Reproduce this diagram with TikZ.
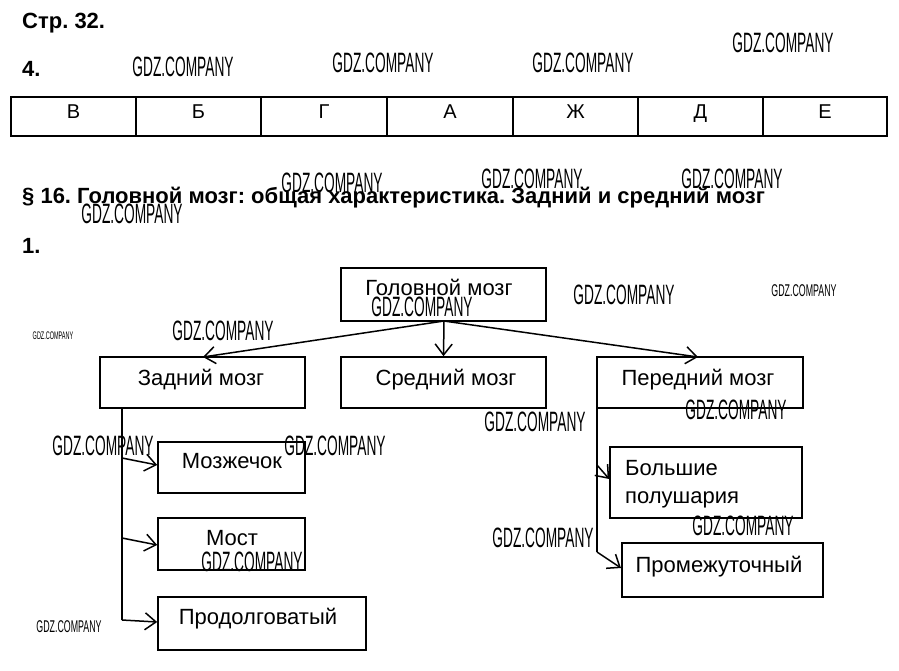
\documentclass[tikz,border=0pt]{standalone}
\usepackage{fontspec}
\setmainfont{Liberation Sans}
\usepackage{graphicx}
\usetikzlibrary{arrows.meta}
\frenchspacing
\newcommand{\gdz}[1]{\scalebox{#1}[1]{GDZ.COMPANY}}
\tikzset{
  box/.style={draw, line width=1.6pt, inner sep=0pt},
  lbl/.style={font=\fontsize{22}{26}\selectfont, inner sep=0pt, anchor=base},
  lblw/.style={font=\fontsize{22}{26}\selectfont, inner sep=0pt, anchor=base west},
  head/.style={font=\fontsize{22}{26}\selectfont\bfseries, inner sep=0pt, anchor=base west},
  cell/.style={font=\fontsize{20}{24}\selectfont, inner sep=0pt, anchor=base},
  wm/.style={font=\fontsize{28}{30}\selectfont, inner sep=0pt, anchor=center},
  wms/.style={font=\fontsize{17}{19}\selectfont, inner sep=0pt, anchor=center},
  wmt/.style={font=\fontsize{11}{12}\selectfont, inner sep=0pt, anchor=center},
  arr/.style={line width=1.5pt, -{Straight Barb[length=11pt,width=17pt,line width=1.5pt]}},
  ln/.style={line width=1.2pt},
}
\begin{document}
\begin{tikzpicture}[x=1pt,y=-1pt]
\useasboundingbox (0,0) rectangle (899,670);
% headings
\node[head] (str) at (22,28) {Стр.\ 32.};
\node[head] (n4) at (22,76) {4.};
\node[head] (par) at (22,203) {§ 16. Головной мозг: общая характеристика. Задний и средний мозг};
\node[head] (n1) at (22,253) {1.};
% table
\draw[line width=1.3pt] (11,97) rectangle (887,136);
\foreach \x in {136,261,387,513,638,763} \draw[line width=1.3pt] (\x,97) -- (\x,136);
\node[cell] (c1) at (73.5,118) {В};
\node[cell] (c2) at (198.5,118) {Б};
\node[cell] (c3) at (324,118) {Г};
\node[cell] (c4) at (450,118) {А};
\node[cell] (c5) at (575.5,118) {Ж};
\node[cell] (c6) at (700.5,118) {Д};
\node[cell] (c7) at (825,118) {Е};
% boxes
\node[box, minimum width=205pt, minimum height=53pt] (gm) at (443.5,294.5) {};
\node[box, minimum width=205pt, minimum height=51pt] (zm) at (202.5,382.5) {};
\node[box, minimum width=205pt, minimum height=51pt] (sm) at (443.5,382.5) {};
\node[box, minimum width=206pt, minimum height=51pt] (pm) at (700,382.5) {};
\node[box, minimum width=147pt, minimum height=51pt] (mz) at (231.5,467.5) {};
\node[box, minimum width=147pt, minimum height=52pt] (most) at (231.5,544) {};
\node[box, minimum width=208pt, minimum height=53pt] (pr) at (262,623.5) {};
\node[box, minimum width=192pt, minimum height=71pt] (bp) at (706,482.5) {};
\node[box, minimum width=201pt, minimum height=54pt] (pt) at (722.5,570) {};
% labels
\node[lbl] (tgm) at (439,295) {Головной мозг};
\node[lbl] (tzm) at (201,385) {Задний мозг};
\node[lbl] (tsm) at (446,385) {Средний мозг};
\node[lbl] (tpm) at (698,385) {Передний мозг};
\node[lbl] (tmz) at (232,468) {Мозжечок};
\node[lbl] (tmost) at (232,545) {Мост};
\node[lbl] (tpr) at (258,624) {Продолговатый};
\node[lblw] (tbp1) at (625,475) {Большие};
\node[lblw] (tbp2) at (625,503) {полушария};
\node[lbl] (tpt) at (719,572) {Промежуточный};
% connectors
\coordinate (src) at (444,321);
\draw[arr] (src) -- (203,357);
\draw[arr] (src) -- (sm.north);
\draw[arr] (src) -- (698,357);
\coordinate (lt0) at (122,408);
\coordinate (lt1) at (122,458);
\coordinate (lt2) at (122,538);
\coordinate (lt3) at (122,620);
\draw[ln] (lt0) -- (lt3);
\draw[arr] (lt1) -- (mz.west |- 0,465);
\draw[arr] (lt2) -- (most.west |- 0,545);
\draw[arr] (lt3) -- (pr.west |- 0,622);
\coordinate (rt0) at (597,408);
\coordinate (rt1) at (597,465);
\coordinate (rt2) at (597,552);
\draw[ln] (rt0) -- (rt2);
\draw[arr] (rt1) -- (bp.west |- 0,479);
\draw[arr] (rt2) -- (621,568);
% watermarks
\node[wm] (w1) at (183,67) {\gdz{0.49}};
\node[wm] (w2) at (383,63) {\gdz{0.49}};
\node[wm] (w3) at (583,63) {\gdz{0.49}};
\node[wm] (w4) at (783,43) {\gdz{0.49}};
\node[wm] (w5) at (332,183) {\gdz{0.49}};
\node[wm] (w6) at (532,179) {\gdz{0.49}};
\node[wm] (w7) at (732,179) {\gdz{0.49}};
\node[wm] (w8) at (132,214) {\gdz{0.49}};
\node[wm] (w9) at (422,307) {\gdz{0.49}};
\node[wm] (w10) at (223,331) {\gdz{0.49}};
\node[wm] (w11) at (624,295) {\gdz{0.49}};
\node[wms] (w12) at (804,291) {\gdz{0.52}};
\node[wmt] (w13) at (53,336) {\gdz{0.5}};
\node[wm] (w14) at (535,422) {\gdz{0.49}};
\node[wm] (w15) at (736,410) {\gdz{0.49}};
\node[wm] (w16) at (103,446) {\gdz{0.49}};
\node[wm] (w17) at (335,446) {\gdz{0.49}};
\node[wm] (w18) at (543,538) {\gdz{0.49}};
\node[wm] (w19) at (743,526) {\gdz{0.49}};
\node[wm] (w20) at (252,562) {\gdz{0.49}};
\node[wms] (w21) at (69,627) {\gdz{0.52}};
\end{tikzpicture}
\end{document}
